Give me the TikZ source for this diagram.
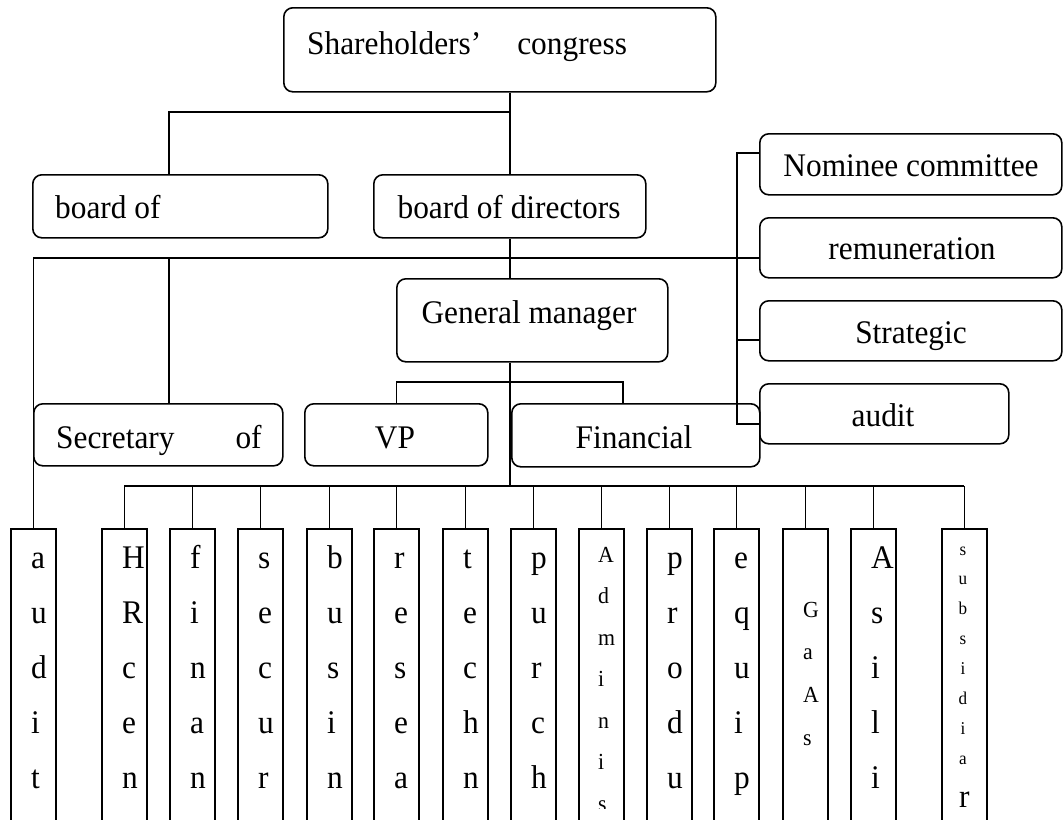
\documentclass[tikz,border=0pt]{standalone}
\usepackage{fontspec}
\setmainfont{Liberation Serif}[FakeStretch=0.95]
\usetikzlibrary{calc}

\tikzset{
  box/.style={draw, line width=1.6pt, rounded corners=9pt, anchor=north west,
    inner sep=0pt},
  colbox/.style={draw, line width=1.6pt, anchor=north west, inner sep=0pt,
    minimum width=45pt, minimum height=330pt},
  wire/.style={line width=1.6pt},
  lbl/.style={inner sep=0pt, anchor=base, font=\fontsize{33}{33}\selectfont},
  lblw/.style={lbl, anchor=base west},
  letter/.style={inner sep=0pt, anchor=base west, font=\fontsize{33}{33}\selectfont},
  smallletter/.style={letter, font=\fontsize{23}{23}\selectfont},
  tinyletter/.style={inner sep=0pt, anchor=base, font=\fontsize{18}{18}\selectfont},
}

% one department column: name, left x, first baseline, line step, letters
\newcommand{\stackcol}[5]{%
  \node[colbox] (#1) at (#2,528) {};
  \foreach \ch [count=\k from 0] in {#5}
    \node[letter] (#1-\k) at ({#2+21},{#3+\k*#4}) {\ch};
}

\begin{document}
\begin{tikzpicture}[x=1pt, y=-1pt]
\useasboundingbox (0,0) rectangle (1064,819);
\clip (0,0) rectangle (1064,819);

% upper boxes
\node[box, minimum width=432pt, minimum height=84pt] (sh) at (283,7) {};
\node[box, minimum width=295pt, minimum height=63pt] (bs) at (32,174) {};
\node[box, minimum width=272pt, minimum height=63pt] (bd) at (373,174) {};
\node[box, minimum width=271pt, minimum height=83pt] (gm) at (396,278) {};
\node[box, minimum width=249pt, minimum height=62pt] (sec) at (33,403) {};
\node[box, minimum width=183pt, minimum height=62pt] (vp) at (304,403) {};
\node[box, minimum width=248pt, minimum height=63pt] (fin) at (511,403) {};

% committees
\node[box, minimum width=302pt, minimum height=61pt] (nom) at (759,133) {};
\node[box, minimum width=302pt, minimum height=60pt] (rem) at (759,217) {};
\node[box, minimum width=302pt, minimum height=60pt] (str) at (759,300) {};
\node[box, minimum width=249pt, minimum height=60pt] (aud) at (759,383) {};

% box texts
\node[lblw] (tsh) at (307,54) {Shareholders’\hspace{36pt}congress};
\node[lblw] (tbs) at (55,218) {board of};
\node[lbl] (tbd) at (509,218) {board of directors};
\node[lbl] (tgm) at (529,323) {General manager};
\node[lblw] (tsec) at (56,448) {Secretary\hspace{61pt}of};
\node[lbl] (tvp) at (395,448) {VP};
\node[lbl] (tfin) at (634,448) {Financial};
\node[lbl] (tnom) at (911,176) {Nominee committee};
\node[lbl] (trem) at (912,259) {remuneration};
\node[lbl] (tstr) at (911,343) {Strategic};
\node[lbl] (taud) at (883,426) {audit};

% department columns
\stackcol{c1}{10}{568}{55}{a,u,d,i,t}
\stackcol{c2}{101}{568}{55}{H,R,c,e,n}
\stackcol{c3}{169}{568}{55}{f,i,n,a,n}
\stackcol{c4}{237}{568}{55}{s,e,c,u,r}
\stackcol{c5}{306}{568}{55}{b,u,s,i,n}
\stackcol{c6}{373}{568}{55}{r,e,s,e,a}
\stackcol{c7}{442}{568}{55}{t,e,c,h,n}
\stackcol{c8}{510}{568}{55}{p,u,r,c,h}
\node[colbox] (c9) at (578,528) {};
\begin{scope}
  \clip (570,528) rectangle (640,808);
  \foreach \ch [count=\k from 0] in {A,d,m,i,n,i,s}
    \node[smallletter] (c9-\k) at (598,{562+\k*41.5}) {\ch};
\end{scope}
\stackcol{c10}{646}{568}{55}{p,r,o,d,u}
\stackcol{c11}{713}{568}{55}{e,q,u,i,p}
\node[colbox] (c12) at (782,528) {};
\foreach \ch [count=\k from 0] in {G,a,A,s}
  \node[smallletter] (c12-\k) at (803,{617+\k*42.7}) {\ch};
\stackcol{c13}{850}{568}{55}{A,s,i,l,i}
\node[colbox] (c14) at (941,528) {};
\foreach \ch [count=\k from 0] in {s,u,b,s,i,d,i,a}
  \node[tinyletter] (c14-\k) at (963,{555+\k*29.9}) {\ch};
\node[letter] (c14-8) at (959,807) {r};

% junction points
\coordinate (sbus) at (169,112);
\coordinate (hb) at (169,258);
\coordinate (cn) at (737,153);
\coordinate (cs) at (737,340);
\coordinate (ca) at (737,424);
\coordinate (vf) at (623,382);
\coordinate (bus) at (0,486);

% shareholders' congress to the two boards
\draw[wire] (sh.south -| bd.north) -- (bd.north);
\draw[wire] (sbus -| bd.north) -- (sbus) -- (sbus |- bs.north);

% board of directors to general manager
\draw[wire] (bd.south) -- (bd.south |- gm.north);

% board level line: audit column, secretary, remuneration
\draw[wire] (c1.north) -- (c1.north |- hb) -- (hb -| rem.west);
\draw[wire] (hb) -- (hb |- sec.north);

% committees
\draw[wire] (cn -| nom.west) -- (cn) -- (ca) -- (ca -| aud.west);
\draw[wire] (cs) -- (cs -| str.west);

% general manager to VP and financial
\draw[wire] (vp.north) -- (vp.north |- vf) -- (vf) -- (vf |- fin.north);

% general manager to departments
\draw[wire] (gm.south -| bd.south) -- (bus -| bd.south);
\draw[wire] (c2.north |- bus) -- (c14.north |- bus);
\foreach \c in {c2,c3,c4,c5,c6,c7,c8,c9,c10,c11,c12,c13,c14}
  \draw[wire] (\c.north |- bus) -- (\c.north);
\end{tikzpicture}
\end{document}
